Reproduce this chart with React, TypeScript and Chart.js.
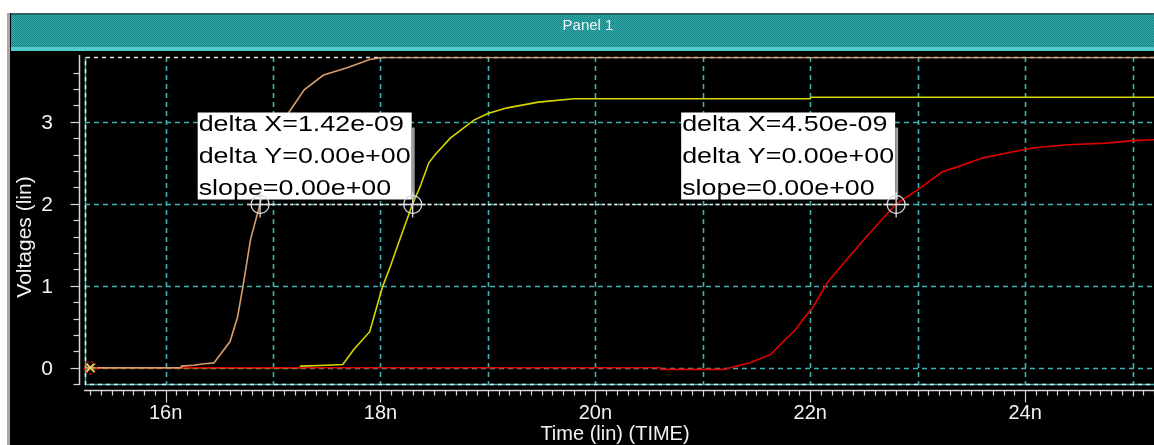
import React, { useEffect, useRef } from "react";
import { Chart, registerables } from "chart.js";

Chart.register(...registerables);

// ---- data (time in ns, voltage in V) ----
const orangeX = [15.25, 16.14, 16.15, 16.26, 16.36, 16.45, 16.6, 16.67, 16.72, 16.79, 16.88, 16.95, 17.02, 17.08, 17.15, 17.29, 17.47, 17.69, 17.9, 18.02, 25.2];
const orangeY = [0, 0, 0.02, 0.03, 0.05, 0.06, 0.32, 0.62, 0.99, 1.56, 2.0, 2.45, 2.78, 2.97, 3.12, 3.39, 3.57, 3.66, 3.76, 3.785, 3.785];

const yellowX = [15.25, 17.25, 17.26, 17.5, 17.65, 17.75, 17.9, 17.95, 18.02, 18.09, 18.19, 18.3, 18.37, 18.45, 18.51, 18.65, 18.87, 19.0, 19.18, 19.47, 19.8, 22.0, 22.01, 25.2];
const yellowY = [0, 0, 0.02, 0.03, 0.04, 0.22, 0.44, 0.67, 0.99, 1.23, 1.6, 2.0, 2.21, 2.5, 2.6, 2.8, 3.02, 3.1, 3.17, 3.24, 3.28, 3.28, 3.3, 3.3];

const redX = [15.25, 20.6, 20.61, 21.2, 21.28, 21.44, 21.63, 21.75, 21.86, 21.95, 22.02, 22.16, 22.34, 22.42, 22.51, 22.8, 23.0, 23.23, 23.37, 23.61, 23.83, 24.07, 24.39, 24.76, 25.0, 25.2];
const redY = [0, 0, -0.02, -0.02, 0.01, 0.06, 0.16, 0.32, 0.46, 0.62, 0.73, 1.04, 1.32, 1.44, 1.58, 2.0, 2.17, 2.39, 2.45, 2.56, 2.62, 2.68, 2.72, 2.74, 2.77, 2.78];

const cursorX = [16.88, 18.3, 22.8];
const cursorY = 2;
const startMarkX = 15.3;
const annotation1 = ["delta X=1.42e-09", "delta Y=0.00e+00", "slope=0.00e+00"];
const annotation2 = ["delta X=4.50e-09", "delta Y=0.00e+00", "slope=0.00e+00"];

const xTickValues = [16, 18, 20, 22, 24];
const xTickLabels = ["16n", "18n", "20n", "22n", "24n"];
const yTickValues = [0, 1, 2, 3];
const yTickLabels = ["0", "1", "2", "3"];
const xGridValues = [16, 17, 18, 19, 20, 21, 22, 23, 24, 25];
const yGridValues = [0, 1, 2, 3];

const xMin = 15.25;
const xMax = 25.2;
const yMin = -0.21;
const yMax = 3.79;

const panelTitle = "Panel 1";
const xTitle = "Time (lin) (TIME)";
const yTitle = "Voltages (lin)";

const pts = (xs: number[], ys: number[]) => xs.map((x, i) => ({ x, y: ys[i] }));

const FONT = '"Liberation Sans", Arial, sans-serif';

const panelPlugin = {
  id: "panelDecor",
  beforeDraw(chart: any) {
    const { ctx, width, height } = chart;
    const xs = chart.scales.x;
    const ys = chart.scales.y;
    const area = chart.chartArea;
    ctx.save();
    ctx.fillStyle = "#ffffff";
    ctx.fillRect(0, 0, width, height);
    ctx.fillStyle = "#000000";
    ctx.fillRect(10, 13, width - 10, height - 13);
    ctx.fillStyle = "#a9a9a9";
    ctx.fillRect(7, 13, 3, height - 13);

    // header with checker texture
    const pc = document.createElement("canvas");
    pc.width = 2;
    pc.height = 2;
    const pctx = pc.getContext("2d")!;
    pctx.fillStyle = "#34b0b0";
    pctx.fillRect(0, 0, 2, 2);
    pctx.fillStyle = "#187f80";
    pctx.fillRect(0, 0, 1, 1);
    pctx.fillRect(1, 1, 1, 1);
    const pattern = ctx.createPattern(pc, "repeat");
    ctx.fillStyle = pattern;
    ctx.fillRect(11, 13, width - 11, 35);
    ctx.fillStyle = "#2f6060";
    ctx.fillRect(11, 13, width - 11, 2);
    ctx.fillStyle = "#52cccc";
    ctx.fillRect(11, 47, width - 11, 4);
    ctx.fillStyle = "#eef6f6";
    ctx.font = `15px ${FONT}`;
    ctx.textAlign = "center";
    ctx.textBaseline = "middle";
    ctx.fillText(panelTitle, 588, 26);

    // y axis
    ctx.strokeStyle = "#d6d6d6";
    ctx.lineWidth = 1.5;
    const axX = 79.5;
    ctx.beginPath();
    ctx.moveTo(axX, 55);
    ctx.lineTo(axX, area.bottom);
    ctx.stroke();
    ctx.lineWidth = 1.2;
    for (let i = -1; i <= 18; i++) {
      const v = i * 0.2;
      const p = ys.getPixelForValue(v);
      if (p < 55 || p > area.bottom) continue;
      const major = i % 5 === 0;
      ctx.beginPath();
      ctx.moveTo(axX, Math.round(p) + 0.5);
      ctx.lineTo(axX - (major ? 9 : 6), Math.round(p) + 0.5);
      ctx.stroke();
    }
    ctx.fillStyle = "#f2f2f2";
    ctx.font = `21px ${FONT}`;
    ctx.textAlign = "center";
    ctx.textBaseline = "middle";
    yTickValues.forEach((v, i) => {
      ctx.fillText(yTickLabels[i], 47, ys.getPixelForValue(v) + 1);
    });
    ctx.save();
    ctx.translate(25, 237);
    ctx.rotate(-Math.PI / 2);
    ctx.font = `21px ${FONT}`;
    ctx.fillText(yTitle, 0, 0);
    ctx.restore();

    // x axis
    const axY = 390.5;
    ctx.lineWidth = 1.5;
    ctx.beginPath();
    ctx.moveTo(84, axY);
    ctx.lineTo(width, axY);
    ctx.stroke();
    ctx.lineWidth = 1.2;
    for (let i = 153; i <= 252; i++) {
      const t = i / 10;
      const p = xs.getPixelForValue(t);
      if (p > width) continue;
      let len = 5;
      if (i % 20 === 0) len = 12;
      else if (i % 10 === 0) len = 6;
      ctx.beginPath();
      ctx.moveTo(Math.round(p) + 0.5, axY);
      ctx.lineTo(Math.round(p) + 0.5, axY + len);
      ctx.stroke();
    }
    ctx.font = `20px ${FONT}`;
    xTickValues.forEach((t, i) => {
      ctx.fillText(xTickLabels[i], xs.getPixelForValue(t), 413);
    });
    ctx.fillText(xTitle, 615, 434);
    ctx.restore();
  },
  beforeDatasetsDraw(chart: any) {
    const { ctx } = chart;
    const xs = chart.scales.x;
    const ys = chart.scales.y;
    const a = chart.chartArea;
    ctx.save();
    ctx.strokeStyle = "rgb(64,178,178)";
    ctx.lineWidth = 1.6;
    ctx.setLineDash([5, 4]);
    xGridValues.forEach((t) => {
      const p = Math.round(xs.getPixelForValue(t)) + 0.5;
      ctx.beginPath();
      ctx.moveTo(p, a.top);
      ctx.lineTo(p, a.bottom);
      ctx.stroke();
    });
    yGridValues.forEach((v) => {
      const p = Math.round(ys.getPixelForValue(v)) + 0.5;
      ctx.beginPath();
      ctx.moveTo(a.left, p);
      ctx.lineTo(a.right, p);
      ctx.stroke();
    });
    // frame
    ctx.setLineDash([]);
    ctx.lineWidth = 1.5;
    ctx.beginPath();
    ctx.moveTo(a.left + 0.5, a.top);
    ctx.lineTo(a.left + 0.5, a.bottom - 0.5);
    ctx.lineTo(a.right, a.bottom - 0.5);
    ctx.stroke();
    ctx.strokeStyle = "#e6e6e6";
    ctx.setLineDash([4, 4]);
    ctx.beginPath();
    ctx.moveTo(a.right, a.top + 0.5);
    ctx.lineTo(a.left + 0.5, a.top + 0.5);
    ctx.lineTo(a.left + 0.5, a.bottom - 0.5);
    ctx.lineTo(a.right, a.bottom - 0.5);
    ctx.stroke();
    ctx.restore();
  },
  afterDatasetsDraw(chart: any) {
    const { ctx } = chart;
    const xs = chart.scales.x;
    const ys = chart.scales.y;
    ctx.save();
    // start marker
    const sx = xs.getPixelForValue(startMarkX);
    const sy = ys.getPixelForValue(0);
    ctx.strokeStyle = "#d01010";
    ctx.lineWidth = 1.5;
    ctx.setLineDash([2, 2]);
    ctx.beginPath();
    ctx.arc(sx, sy, 6, 0, Math.PI * 2);
    ctx.stroke();
    ctx.setLineDash([]);
    ctx.strokeStyle = "#e6d24a";
    ctx.lineWidth = 2;
    ctx.beginPath();
    ctx.moveTo(sx - 4, sy - 4);
    ctx.lineTo(sx + 4, sy + 4);
    ctx.moveTo(sx + 4, sy - 4);
    ctx.lineTo(sx - 4, sy + 4);
    ctx.stroke();

    const py = Math.round(ys.getPixelForValue(cursorY)) + 0.5;
    const cx = cursorX.map((t) => xs.getPixelForValue(t));
    // connecting dashed line
    ctx.strokeStyle = "#eeeeee";
    ctx.lineWidth = 1.4;
    ctx.setLineDash([3, 3]);
    ctx.beginPath();
    ctx.moveTo(cx[0], py);
    ctx.lineTo(cx[cx.length - 1], py);
    ctx.stroke();
    ctx.setLineDash([]);

    // boxes
    const drawBox = (lines: string[], anchorX: number) => {
      const right = anchorX - 1;
      const bottom = py - 5;
      const w = 214;
      const h = 87;
      const left = right - w;
      const top = bottom - h;
      ctx.fillStyle = "#ffffff";
      ctx.fillRect(left, top, w, h);
      ctx.fillStyle = "#9c9c9c";
      ctx.fillRect(right, top + 15, 3, h - 15);
      ctx.fillStyle = "#000000";
      ctx.font = `22px ${FONT}`;
      ctx.textAlign = "left";
      ctx.textBaseline = "alphabetic";
      lines.forEach((s, i) => {
        ctx.save();
        ctx.translate(left + 1, top + 18 + i * 32);
        ctx.scale(1.22, 1);
        ctx.fillText(s, 0, 0);
        ctx.restore();
      });
    };
    drawBox(annotation1, cx[1]);
    drawBox(annotation2, cx[2]);

    // cursor markers
    ctx.strokeStyle = "#dcdcdc";
    ctx.lineWidth = 1.3;
    cx.forEach((x) => {
      ctx.beginPath();
      ctx.arc(x, py, 9, 0, Math.PI * 2);
      ctx.stroke();
      ctx.beginPath();
      ctx.moveTo(x - 13, py);
      ctx.lineTo(x + 13, py);
      ctx.moveTo(x, py - 13);
      ctx.lineTo(x, py + 13);
      ctx.stroke();
    });
    ctx.restore();
  },
};

export default function App() {
  const ref = useRef<HTMLCanvasElement>(null);
  useEffect(() => {
    if (!ref.current) return;
    const chart = new Chart(ref.current, {
      type: "line",
      data: {
        datasets: [
          {
            label: "orange",
            data: pts(orangeX, orangeY),
            borderColor: "#d99d6c",
            borderWidth: 1.6,
            pointRadius: 0,
            pointHoverRadius: 0,
            tension: 0,
          },
          {
            label: "red",
            data: pts(redX, redY),
            borderColor: "#e00000",
            borderWidth: 1.6,
            pointRadius: 0,
            pointHoverRadius: 0,
            tension: 0,
          },
          {
            label: "yellow",
            data: pts(yellowX, yellowY),
            borderColor: "#d6d600",
            borderWidth: 1.6,
            pointRadius: 0,
            pointHoverRadius: 0,
            tension: 0,
          },
        ],
      },
      options: {
        animation: false,
        responsive: false,
        devicePixelRatio: 1,
        layout: { padding: { left: 85, top: 57, right: 0, bottom: 60 } },
        plugins: { legend: { display: false }, tooltip: { enabled: false } },
        events: [],
        scales: {
          x: { type: "linear", min: xMin, max: xMax, display: false },
          y: { type: "linear", min: yMin, max: yMax, display: false },
        },
      },
      plugins: [panelPlugin],
    });
    return () => chart.destroy();
  }, []);
  return (
    <div style={{ position: "fixed", left: 0, top: 0, width: 1154, height: 445 }}>
      <canvas ref={ref} width={1154} height={445} style={{ display: "block" }} />
    </div>
  );
}
